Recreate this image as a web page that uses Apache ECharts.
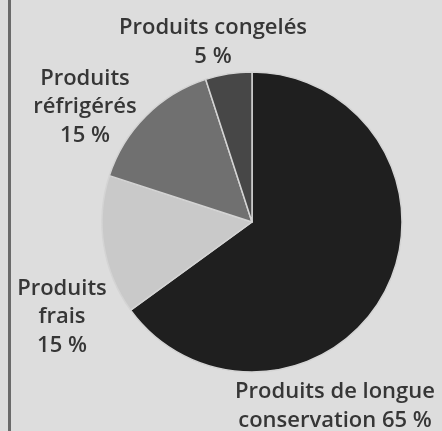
<!DOCTYPE html>
<html><head><meta charset="utf-8">
<script src="https://cdn.jsdelivr.net/npm/echarts@6/dist/echarts.min.js"></script>
<style>html,body{margin:0;padding:0;background:#dddddd;}#c{width:442px;height:431px;}</style>
</head><body><div id="c"></div>
<script>
var categories = ['Produits de longue\nconservation', 'Produits\nfrais', 'Produits\nréfrigérés', 'Produits congelés'];
var values = [65, 15, 15, 5];
var separators = [' ', '\n', '\n', '\n'];
var colors = ['#1f1f1f', '#c9c9c9', '#707070', '#474747'];
var labelPos = [[335, 406, 'center'], [62, 317, 'center'], [85, 107, 'center'], [213, 42, 'center']];

var chart = echarts.init(document.getElementById('c'), null, {renderer: 'canvas'});
chart.setOption({
  backgroundColor: '#dddddd',
  animation: false,
  graphic: [{type: 'line', shape: {x1: 9.5, y1: 0, x2: 9.5, y2: 431}, style: {stroke: '#6a6a6a', lineWidth: 3}}],
  series: [{
    type: 'pie',
    center: [252, 222],
    radius: 150,
    startAngle: 90,
    clockwise: true,
    avoidLabelOverlap: false,
    data: categories.map(function (c, i) {
      return {name: c, value: values[i], itemStyle: {color: colors[i]}};
    }),
    itemStyle: {borderColor: '#d4d4d4', borderWidth: 1.5},
    label: {
      show: true,
      position: 'outside',
      alignTo: 'none',
      overflow: 'none',
      bleedMargin: 0,
      formatter: function (p) { return p.name + separators[p.dataIndex] + p.value + ' %'; },
      fontFamily: 'Open Sans',
      fontWeight: 600,
      fontSize: 22,
      lineHeight: 28.5,
      color: '#363636',
      align: 'center'
    },
    labelLine: {show: false},
    labelLayout: function (params) {
      var lp = labelPos[params.dataIndex];
      return {x: lp[0], y: lp[1], align: lp[2], verticalAlign: 'middle', hideOverlap: false};
    }
  }]
});
</script></body></html>
